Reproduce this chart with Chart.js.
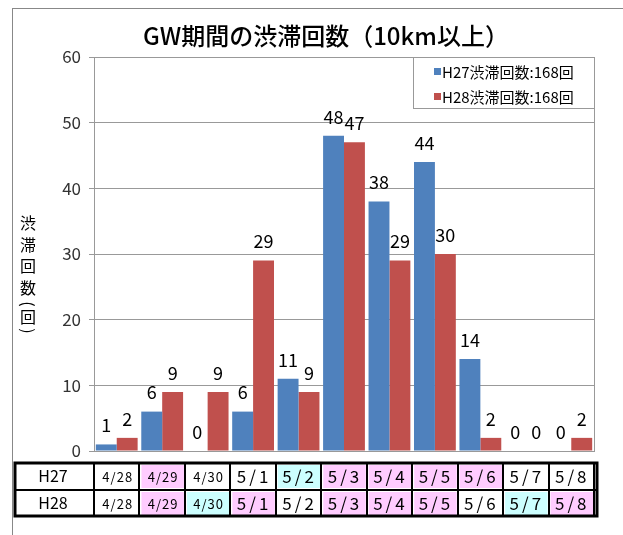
<!DOCTYPE html>
<html>
<head>
<meta charset="utf-8">
<script src="https://cdn.jsdelivr.net/npm/chart.js@4.4.0/dist/chart.umd.min.js"></script>
<style>
  html, body { margin: 0; padding: 0; background: #fff; }
  #frame { position: absolute; left: 12px; top: 8px; width: 700px; height: 600px; border-left: 1px solid #888; border-top: 1px solid #888; }
  canvas { position: absolute; left: 0; top: 0; }
</style>
</head>
<body>
<div id="frame"></div>
<canvas id="chart" width="623" height="535"></canvas>
<script>
var dates = ['4/28', '4/29', '4/30', '5/1', '5/2', '5/3', '5/4', '5/5', '5/6', '5/7', '5/8'];
var h27Counts = [1, 6, 0, 6, 11, 48, 38, 44, 14, 0, 0];
var h28Counts = [2, 9, 9, 29, 9, 47, 29, 30, 2, 0, 2];
// 平 = weekday, 土 = Saturday, 日/祝 = Sunday or holiday
var h27Days = ['平', '祝', '平', '平', '土', '日', '祝', '祝', '祝', '平', '平'];
var h28Days = ['平', '祝', '土', '日', '平', '祝', '祝', '祝', '平', '土', '日'];
var seriesNames = ['H27', 'H28'];

var font = '"Noto Sans CJK JP", "Noto Sans", sans-serif';
var blue = '#4F81BD';
var red = '#C0504D';

function total(arr) {
  var s = 0;
  arr.forEach(function(v) { s += v; });
  return s;
}

function dayColor(d) {
  if (d == '土') return '#CCFFFF';
  if (d == '日' || d == '祝') return '#FFCCFF';
  return '#FFFFFF';
}

var extras = {
  id: 'extras',
  afterDraw: function(chart) {
    var ctx = chart.ctx;
    var area = chart.chartArea;
    var xs = chart.scales.x;

    // plot right border
    ctx.save();
    ctx.strokeStyle = '#999';
    ctx.lineWidth = 1;
    ctx.beginPath();
    ctx.moveTo(Math.round(area.right) + 0.5, area.top);
    ctx.lineTo(Math.round(area.right) + 0.5, area.bottom);
    ctx.stroke();

    // value labels
    ctx.fillStyle = '#000';
    ctx.font = '18px ' + font;
    ctx.textAlign = 'center';
    ctx.textBaseline = 'middle';
    chart.data.datasets.forEach(function(ds, di) {
      var meta = chart.getDatasetMeta(di);
      meta.data.forEach(function(bar, i) {
        ctx.fillText(String(ds.data[i]), bar.x, bar.y - 19);
      });
    });

    // title
    ctx.font = '500 24px ' + font;
    ctx.fillText('GW期間の渋滞回数（10km以上）', 326, 36);

    // y title, stacked
    ctx.font = '16px ' + font;
    var chars = ['渋', '滞', '回', '数'];
    var ys = [223, 245, 266, 288];
    chars.forEach(function(c, i) { ctx.fillText(c, 28, ys[i]); });
    ctx.fillText('回', 28, 317);
    // parentheses turned sideways
    [['(', 304], [')', 331]].forEach(function(p) {
      ctx.save();
      ctx.translate(28, p[1]);
      ctx.rotate(Math.PI / 2);
      ctx.fillText(p[0], 0, 0);
      ctx.restore();
    });

    // legend
    ctx.fillStyle = '#fff';
    ctx.fillRect(413, 57, 181, 51);
    ctx.strokeStyle = '#999';
    ctx.strokeRect(413.5, 57.5, 181, 51);
    ctx.textAlign = 'left';
    ctx.font = '15px ' + font;
    var cols = [blue, red];
    var sets = [h27Counts, h28Counts];
    for (var k = 0; k < 2; k++) {
      var cy = 72 + k * 25;
      ctx.fillStyle = cols[k];
      ctx.fillRect(434, cy - 4, 7, 7);
      ctx.fillStyle = '#000';
      ctx.fillText(seriesNames[k] + '渋滞回数:' + total(sets[k]) + '回', 442, cy);
    }

    // table
    var w = area.width / dates.length;
    var rowTop = [463, 490];
    var rowH = 26;
    var rows = [h27Days, h28Days];
    for (var r = 0; r < 2; r++) {
      var top = rowTop[r];
      ctx.fillStyle = '#000';
      ctx.font = '16px ' + font;
      ctx.textAlign = 'center';
      ctx.fillText(seriesNames[r], 53, top + rowH / 2);
      for (var i = 0; i < dates.length; i++) {
        var left = xs.getPixelForValue(i) - w / 2;
        ctx.fillStyle = dayColor(rows[r][i]);
        ctx.fillRect(left + 2, top + 2, w - 3, rowH - 3);
        ctx.fillStyle = '#000';
        ctx.font = (dates[i].charAt(0) == '4' ? '13px ' : '17px ') + font;
        ctx.letterSpacing = dates[i].charAt(0) == '4' ? '1px' : '3px';
        ctx.fillText(dates[i], xs.getPixelForValue(i) + 1, top + rowH / 2 + 1);
        ctx.letterSpacing = '0px';
      }
    }
    ctx.strokeStyle = '#000';
    ctx.lineWidth = 2;
    ctx.beginPath();
    ctx.moveTo(14, 490); ctx.lineTo(area.right + 3, 490);
    for (var j = 0; j <= dates.length; j++) {
      var lx = Math.round(area.left + j * w);
      ctx.moveTo(lx, 463); ctx.lineTo(lx, 516);
    }
    ctx.stroke();
    ctx.lineWidth = 3;
    ctx.strokeRect(15, 463, area.right + 3 - 15, 53);
    ctx.restore();
  }
};

var chart = new Chart(document.getElementById('chart'), {
  type: 'bar',
  data: {
    labels: dates,
    datasets: [
      { label: seriesNames[0], data: h27Counts, backgroundColor: blue },
      { label: seriesNames[1], data: h28Counts, backgroundColor: red }
    ]
  },
  options: {
    responsive: false,
    animation: false,
    layout: { padding: { top: 57, right: 29, bottom: 84, left: 0 } },
    plugins: { legend: { display: false }, tooltip: { enabled: false } },
    datasets: { bar: { categoryPercentage: 0.92, barPercentage: 1 } },
    scales: {
      x: {
        ticks: { display: false },
        grid: { display: false },
        border: { display: true, color: '#999' },
        afterFit: function(s) { s.height = 0; }
      },
      y: {
        min: 0,
        max: 60,
        ticks: { stepSize: 10, color: '#333', font: { size: 17, family: font }, padding: 8 },
        grid: { color: '#999', tickLength: 5 },
        border: { color: '#999' },
        afterFit: function(s) { s.width = 94; }
      }
    }
  },
  plugins: [extras]
});
</script>
</body>
</html>
